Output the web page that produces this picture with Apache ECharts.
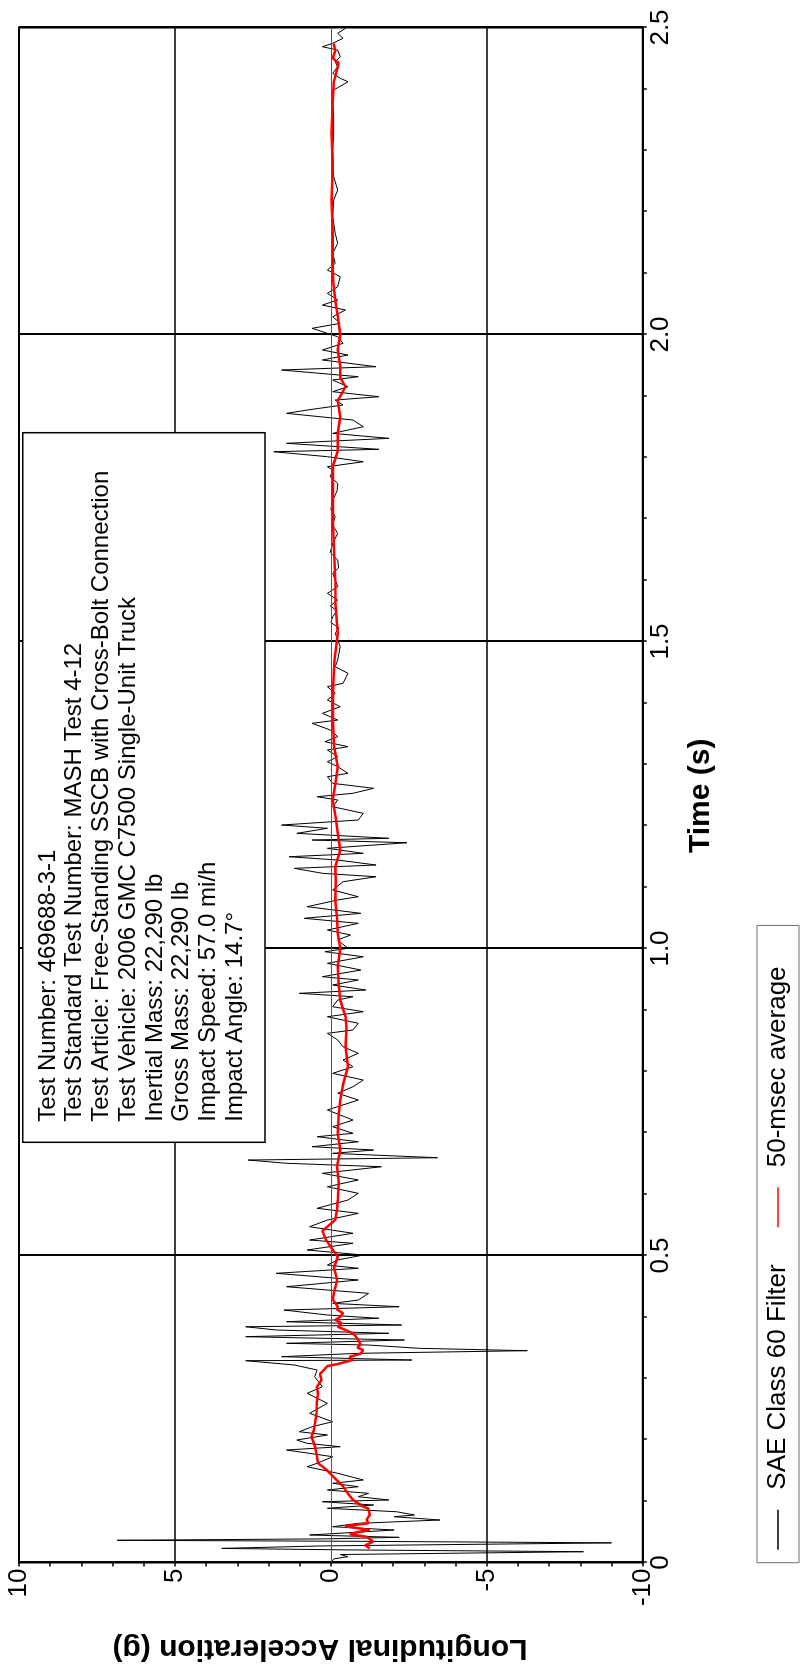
<!DOCTYPE html>
<html>
<head>
<meta charset="utf-8">
<title>Longitudinal Acceleration</title>
<script src="https://cdn.jsdelivr.net/npm/echarts@6.0.0/dist/echarts.min.js"></script>
<style>
  html, body { margin: 0; padding: 0; background: #fff; }
  #page { position: relative; width: 801px; height: 1665px; overflow: hidden; background: #fff; }
  /* the chart is drawn landscape and turned a quarter turn counter-clockwise */
  #chart {
    position: absolute; left: 0; top: 0;
    width: 1665px; height: 801px;
    transform-origin: 0 0;
    transform: translate(0, 1665px) rotate(-90deg);
  }
</style>
</head>
<body>
<div id="page"><div id="chart"></div></div>
<script>
// SAE Class 60 filtered trace (time in s, acceleration in g)
const saeTime = [
  0, 0.006, 0.0095, 0.013, 0.0176, 0.0205, 0.023, 0.027, 0.032, 0.0345, 0.0362, 0.0385,
  0.041, 0.0448, 0.0529, 0.0583, 0.0638, 0.0692, 0.0746, 0.0774, 0.0827, 0.0883, 0.0936, 0.099,
  0.1018, 0.1072, 0.1127, 0.1181, 0.1235, 0.129, 0.1344, 0.1453, 0.156, 0.1616, 0.1723, 0.1832,
  0.1886, 0.1941, 0.1995, 0.2077, 0.213, 0.2212, 0.2293, 0.243, 0.2593, 0.2756, 0.2863, 0.3026,
  0.3135, 0.3217, 0.3287, 0.3298, 0.3352, 0.3407, 0.345, 0.3488, 0.3542, 0.357, 0.3624, 0.3678,
  0.3733, 0.3787, 0.384, 0.3868, 0.3922, 0.3977, 0.4031, 0.4112, 0.4166, 0.4221, 0.4275, 0.4384,
  0.4492, 0.4601, 0.471, 0.4792, 0.4845, 0.4927, 0.5008, 0.509, 0.5199, 0.5252, 0.5362, 0.5469,
  0.5578, 0.5687, 0.5769, 0.5904, 0.6013, 0.612, 0.623, 0.6339, 0.6446, 0.6502, 0.6555, 0.6593,
  0.6664, 0.6718, 0.6772, 0.6853, 0.6935, 0.699, 0.7098, 0.7207, 0.737, 0.7533, 0.7642, 0.7749,
  0.7858, 0.7967, 0.8075, 0.8184, 0.8293, 0.8401, 0.851, 0.8619, 0.8673, 0.8782, 0.8889, 0.8971,
  0.9052, 0.9161, 0.9215, 0.927, 0.9324, 0.9406, 0.9487, 0.9541, 0.965, 0.9759, 0.9866, 0.9948,
  1.0003, 1.0138, 1.022, 1.0301, 1.041, 1.0492, 1.0573, 1.0681, 1.079, 1.0844, 1.0953, 1.1088,
  1.1169, 1.1225, 1.1306, 1.136, 1.1441, 1.1495, 1.155, 1.1632, 1.1723, 1.1767, 1.1795, 1.1876,
  1.1958, 1.2011, 1.2093, 1.2202, 1.2309, 1.2419, 1.2472, 1.2528, 1.2609, 1.269, 1.2798, 1.2853,
  1.2961, 1.3042, 1.3124, 1.3233, 1.3287, 1.3368, 1.345, 1.3559, 1.3668, 1.3721, 1.383, 1.3938,
  1.4047, 1.4156, 1.4264, 1.4319, 1.4482, 1.459, 1.4699, 1.4915, 1.5134, 1.522, 1.531, 1.5404,
  1.55, 1.558, 1.5676, 1.5785, 1.5893, 1.6111, 1.62, 1.6327, 1.645, 1.6599, 1.6762, 1.69,
  1.7033, 1.715, 1.7305, 1.745, 1.7576, 1.7684, 1.7793, 1.7847, 1.7928, 1.801, 1.8091, 1.813,
  1.8228, 1.8309, 1.839, 1.8499, 1.8607, 1.8716, 1.877, 1.8852, 1.8933, 1.8987, 1.9069, 1.915,
  1.9259, 1.9313, 1.9422, 1.9476, 1.9585, 1.9666, 1.9748, 1.9857, 1.9964, 2.0019, 2.0101, 2.0182,
  2.029, 2.0399, 2.048, 2.0562, 2.0671, 2.0778, 2.0941, 2.105, 2.116, 2.1322, 2.1485, 2.1648,
  2.1918, 2.219, 2.2353, 2.257, 2.3005, 2.3277, 2.3548, 2.3819, 2.3982, 2.4117, 2.4173, 2.4254,
  2.4362, 2.4443, 2.4525, 2.4633, 2.4687, 2.4743, 2.4824, 2.4906, 2.4987
];
const saeAccel = [
  0, -0.1, -0.55, -0.3, -8.1, -0.6, 3.5, 0.3, -9.0, -1.0, 6.85, 0.2,
  -2.19, 0.68, -2.03, -0.06, -0.88, -3.5, -2.03, -2.68, -2.11, 0.11, -1.37, 0.27,
  -1.86, -0.88, -1.21, 0.11, -0.88, -0.06, -1.04, -0.22, 0.76, 0.44, -0.06, 1.42,
  -0.3, 0.76, 1.09, 0.11, 1.01, 0.6, -0.06, 0.68, 0.11, 0.76, 0.27, 0.52,
  0.44, 1.17, 2.73, -2.6, 1.58, -0.88, -6.3, -2.85, -1.21, 1.42, -2.36, 2.73,
  -1.86, 1.75, 2.73, -2.27, 1.42, -1.54, 0.11, 1.5, -2.19, -0.06, -0.88, -1.21,
  1.42, -0.88, 1.75, -0.88, 0.11, -0.22, -1.04, 0.76, -0.71, 0.68, -0.71, 0.68,
  0.11, -0.88, 0.44, -0.55, -0.88, 0.11, -0.88, 0.27, -1.62, 1.42, 2.65, -3.42,
  -0.06, -1.37, 0.6, -0.88, 0.44, -0.71, -0.06, -0.71, 0.11, -0.88, -0.22, -0.71,
  -1.04, -0.06, -0.71, -0.39, -0.88, -0.39, -0.22, 0.11, -0.71, -0.88, 0.11, -1.04,
  -0.06, -0.22, -0.71, 1.01, -1.12, -0.06, -0.88, 0.27, -0.96, 0.11, -1.04, 0.19,
  -0.55, -0.22, -0.63, 0.11, -0.88, 0.85, -0.96, 0.76, -0.22, -0.88, -0.06, -0.39,
  -1.45, 0.27, 1.17, -1.45, -0.22, 1.34, -1.04, 0.11, -2.44, 0.6, -1.86, 1.09,
  0.11, 1.58, -0.88, -1.04, -0.06, -0.22, 0.44, -0.71, -1.37, -0.06, 0.11, -0.55,
  -0.22, 0.11, -0.22, 0.11, -0.55, 0.19, -0.22, 0.02, 0.6, -0.22, 0.27, -0.3,
  0.11, -0.14, 0.11, -0.39, -0.55, -0.14, -0.22, -0.3, -0.14, -0.26, 0.0, -0.06,
  -0.2, 0.02, -0.22, 0.11, -0.22, -0.06, -0.25, -0.22, 0.02, -0.06, -0.22, -0.05,
  -0.14, 0.0, -0.06, -0.2, -0.22, 0.02, -0.06, 0.11, -1.04, 0.11, 1.83, -1.54,
  1.42, -1.86, -0.06, -1.04, -0.71, 1.42, 0.76, -0.39, -0.14, -1.54, -0.06, -0.55,
  -0.06, -0.88, 1.58, -1.45, 0.27, -0.55, 0.27, -0.39, -0.22, 0.11, 0.6, -0.3,
  -0.06, -0.47, 0.27, -0.22, 0.11, -0.22, -0.3, 0.11, -0.14, -0.06, -0.22, -0.14,
  -0.06, -0.09, -0.22, -0.09, -0.06, -0.09, -0.09, -0.06, -0.09, -0.55, -0.3, -0.06,
  -0.22, -0.14, -0.3, -0.22, 0.27, -0.06, -0.39, -0.22, -0.47
];

// 50-msec moving average
const avgTime = [
  0.023, 0.028, 0.034, 0.042, 0.046, 0.05, 0.053, 0.059, 0.064, 0.07, 0.078, 0.088,
  0.091, 0.102, 0.112, 0.124, 0.14, 0.151, 0.162, 0.175, 0.189, 0.205, 0.215, 0.227,
  0.243, 0.26, 0.276, 0.286, 0.297, 0.307, 0.315, 0.32, 0.323, 0.33, 0.335, 0.34,
  0.346, 0.35, 0.355, 0.362, 0.368, 0.373, 0.378, 0.384, 0.39, 0.395, 0.4, 0.406,
  0.412, 0.417, 0.428, 0.44, 0.46, 0.48, 0.498, 0.51, 0.525, 0.54, 0.558, 0.575,
  0.59, 0.62, 0.645, 0.672, 0.699, 0.73, 0.753, 0.78, 0.8075, 0.84, 0.87, 0.889,
  0.916, 0.94, 0.97, 1.0, 1.025, 1.05, 1.079, 1.11, 1.133, 1.16, 1.188, 1.215,
  1.242, 1.27, 1.296, 1.33, 1.38, 1.43, 1.47, 1.513, 1.56, 1.6, 1.65, 1.7,
  1.75, 1.785, 1.81, 1.84, 1.865, 1.893, 1.899, 1.915, 1.93, 1.948, 1.975, 2.0,
  2.03, 2.056, 2.085, 2.11, 2.165, 2.219, 2.27, 2.33, 2.38, 2.41, 2.436, 2.442,
  2.45, 2.462, 2.474
];
const avgAccel = [
  -1.25, -1.1, -1.36, -1.14, -0.61, -0.9, -1.25, -0.45, -1.2, -1.15, -1.25, -1.2,
  -1.04, -0.71, -0.55, -0.39, -0.07, 0.14, 0.41, 0.45, 0.51, 0.62, 0.55, 0.51,
  0.46, 0.45, 0.41, 0.45, 0.3, 0.35, 0.2, 0.11, -0.2, -0.71, -0.6, -0.95,
  -1.04, -0.85, -0.95, -0.88, -0.8, -0.71, -0.5, -0.22, -0.35, -0.14, -0.3, -0.39,
  -0.2, -0.22, -0.06, -0.1, -0.2, -0.1, -0.22, -0.05, 0.15, 0.27, -0.14, -0.2,
  -0.22, -0.25, -0.2, -0.3, -0.22, -0.25, -0.3, -0.4, -0.55, -0.47, -0.5, -0.47,
  -0.3, -0.25, -0.22, -0.3, -0.22, -0.2, -0.14, -0.16, -0.14, -0.3, -0.22, -0.15,
  -0.06, -0.15, -0.22, -0.1, -0.06, -0.08, -0.12, -0.22, -0.15, -0.14, -0.1, -0.06,
  -0.07, -0.06, -0.22, -0.22, -0.3, -0.22, -0.3, -0.47, -0.3, -0.3, -0.22, -0.3,
  -0.22, -0.14, -0.08, -0.06, -0.06, -0.02, -0.06, -0.02, -0.06, -0.09, -0.22, -0.25,
  -0.06, -0.14, -0.09
];

const seriesNames = ['SAE Class 60 Filter', '50-msec average'];

const infoLines = [
  'Test Number: 469688-3-1',
  'Test Standard Test Number: MASH Test 4-12',
  'Test Article: Free-Standing SSCB with Cross-Bolt Connection',
  'Test Vehicle: 2006 GMC C7500 Single-Unit Truck',
  'Inertial Mass: 22,290 lb',
  'Gross Mass: 22,290 lb',
  'Impact Speed: 57.0 mi/h',
  'Impact Angle: 14.7\u00b0'
];

const FONT = '"Liberation Sans", Arial, Helvetica, sans-serif';

const pairs = (xs, ys) => xs.map((x, i) => [x, ys[i]]);

const chart = echarts.init(document.getElementById('chart'), null, { renderer: 'canvas' });

const axisCommon = {
  type: 'value',
  axisLine: { show: true, onZero: false, lineStyle: { color: '#000', width: 2 } },
  axisTick: { show: true, length: 4, lineStyle: { color: '#000', width: 1.5 } },
  minorTick: { show: true, splitNumber: 5, length: 4, lineStyle: { color: '#000', width: 1.5 } },
  minorSplitLine: { show: false }
};

const option = {
  animation: false,
  backgroundColor: '#fff',
  grid: {
    left: 102.5, right: 27.5, top: 19, bottom: 158.3,
    show: true, borderColor: '#000', borderWidth: 2,
    containLabel: false, outerBoundsMode: 'none'
  },
  xAxis: Object.assign({}, axisCommon, {
    min: 0, max: 2.5, interval: 0.5,
    splitLine: { show: true, lineStyle: { color: '#000', width: 2 } },
    axisLabel: {
      color: '#000', fontSize: 26, fontFamily: FONT, margin: 5,
      formatter: v => (v === 0 ? '0' : v.toFixed(1))
    }
  }),
  yAxis: Object.assign({}, axisCommon, {
    min: -10, max: 10, interval: 5,
    splitLine: { show: false },
    axisLabel: { color: '#000', fontSize: 26, fontFamily: FONT, margin: 6 }
  }),
  legend: {
    data: seriesNames,
    left: 102.3, top: 757,
    orient: 'horizontal',
    icon: 'rect',
    itemWidth: 40, itemHeight: 1.5, itemGap: 37,
    itemStyle: { borderWidth: 0 },
    padding: [8, 41, 8, 13],
    borderColor: '#707070', borderWidth: 1,
    backgroundColor: '#fff',
    selectedMode: false,
    textStyle: { color: '#000', fontSize: 26, fontFamily: FONT, padding: [0, 0, 0, 15] }
  },
  graphic: [
    {
      type: 'rect', z: 100,
      shape: { x: 522.7, y: 22.7, width: 709.6, height: 242.3 },
      style: { fill: '#fff', stroke: '#000', lineWidth: 1.5 }
    },
    {
      type: 'text', z: 101, x: 543.3, y: 34.75,
      style: {
        text: infoLines.join('\n'), fill: '#000',
        fontSize: 24, fontFamily: FONT, lineHeight: 26.7,
        align: 'left', verticalAlign: 'top'
      }
    },
    {
      type: 'text', z: 101, x: 869.2, y: 701,
      style: {
        text: 'Time (s)', fill: '#000', fontSize: 30, fontWeight: 'bold',
        fontFamily: FONT, align: 'center', verticalAlign: 'middle'
      }
    },
    {
      type: 'text', z: 101, x: 17, y: 320, rotation: Math.PI / 2,
      style: {
        text: 'Longitudinal Acceleration (g)', fill: '#000', fontSize: 30, fontWeight: 'bold',
        fontFamily: FONT, align: 'center', verticalAlign: 'middle'
      }
    }
  ],
  series: [
    {
      name: seriesNames[0],
      type: 'line',
      data: pairs(saeTime, saeAccel),
      symbol: 'none',
      silent: true,
      z: 3,
      lineStyle: { color: '#000', width: 1 },
      itemStyle: { color: '#000' },
      markLine: {
        silent: true,
        symbol: 'none',
        label: { show: false },
        lineStyle: { type: 'solid' },
        data: [
          { yAxis: 5, lineStyle: { color: '#000', width: 1.5, type: 'solid' } },
          { yAxis: -5, lineStyle: { color: '#000', width: 1.5, type: 'solid' } },
          { yAxis: 0, lineStyle: { color: '#555', width: 1, type: 'solid' } }
        ]
      }
    },
    {
      name: seriesNames[1],
      type: 'line',
      data: pairs(avgTime, avgAccel),
      symbol: 'none',
      silent: true,
      z: 4,
      lineStyle: { color: '#ff0000', width: 2.5 },
      itemStyle: { color: '#ff0000' }
    }
  ]
};

chart.setOption(option);
</script>
</body>
</html>
